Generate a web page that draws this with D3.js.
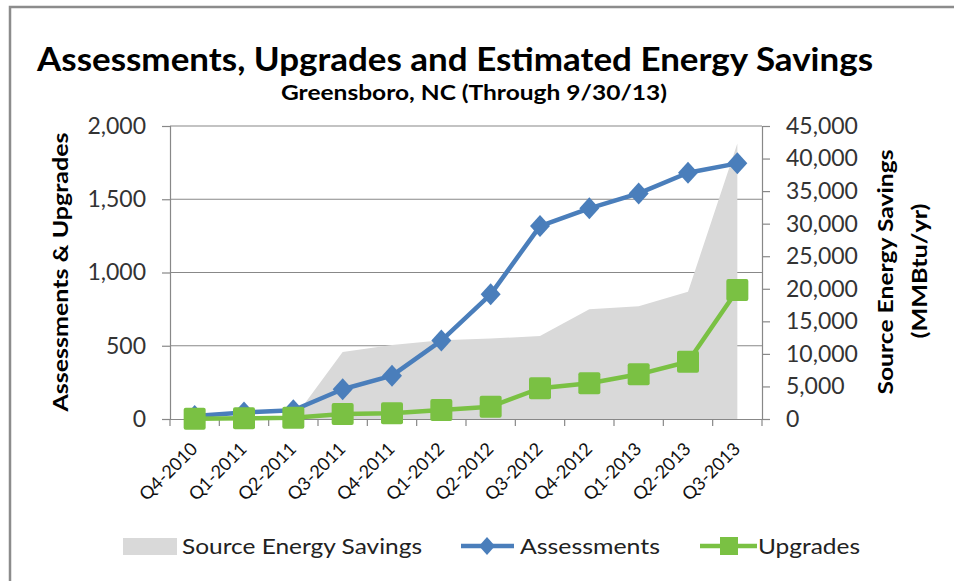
<!DOCTYPE html>
<html lang="en">
<head>
  <meta charset="UTF-8">
  <title>Assessments, Upgrades and Estimated Energy Savings</title>
  <script src="https://d3js.org/d3.v7.min.js"></script>
</head>
<style>
  body{
    margin:0;
    background:#ffffff;
  }
  svg text{
    font-family: Lato, "Open Sans", sans-serif;
  }
</style>
<body>
  <div id="svg_area"></div>
</body>
<script>
// data
var quarters = ["Q4-2010", "Q1-2011", "Q2-2011", "Q3-2011", "Q4-2011", "Q1-2012",
                "Q2-2012", "Q3-2012", "Q4-2012", "Q1-2013", "Q2-2013", "Q3-2013"];
var assessments = [20, 45, 60, 203, 296, 535, 851, 1317, 1438, 1540, 1681, 1745];
var upgrades = [2, 5, 8, 34, 39, 61, 84, 210, 244, 305, 391, 881];
var savings = [0, 0, 0, 10280, 11350, 12100, 12370, 12730, 16870, 17330, 19530, 42300];
var leftTicks = [0, 500, 1000, 1500, 2000];
var rightTicks = [0, 5000, 10000, 15000, 20000, 25000, 30000, 35000, 40000, 45000];

var width = 954, height = 581;
var plotLeft = 170, plotRight = 762, plotTop = 126, plotBottom = 419;
var blue = "#4a7ebb", green = "#7ac143", grey = "#d9d9d9", axisCol = "#888888";

let svg = d3.select("#svg_area").append("svg")
  .attr("width", width)
  .attr("height", height);

// chart border (only top and left edges are inside the picture)
svg.append("rect")
  .attr("x", 10).attr("y", 7)
  .attr("width", 1000).attr("height", 700)
  .attr("fill", "none")
  .attr("stroke", "#8c8c8c")
  .attr("stroke-width", 2.5);

// scales
var x = d3.scaleBand().domain(quarters).range([plotLeft, plotRight]);
var yLeft = d3.scaleLinear().domain([0, 2000]).range([plotBottom, plotTop]);
var yRight = d3.scaleLinear().domain([0, 45000]).range([plotBottom, plotTop]);
function cx(i){ return x(quarters[i]) + x.bandwidth() / 2; }

// gridlines
svg.append("g").selectAll("line")
  .data(leftTicks.slice(1))
  .enter().append("line")
    .attr("x1", plotLeft).attr("x2", plotRight)
    .attr("y1", function(d){ return yLeft(d); })
    .attr("y2", function(d){ return yLeft(d); })
    .attr("stroke", axisCol)
    .attr("stroke-width", 1.2);

// area for source energy savings (secondary axis)
var area = d3.area()
  .x(function(d, i){ return cx(i); })
  .y0(plotBottom)
  .y1(function(d){ return yRight(d); });
svg.append("path")
  .datum(savings)
  .attr("d", area)
  .attr("fill", grey);

// left axis
var leftAxis = svg.append("g")
  .attr("transform", "translate(" + plotLeft + ",0)")
  .call(d3.axisLeft(yLeft).tickValues(leftTicks).tickFormat(d3.format(",")).tickSize(8).tickPadding(16));
// right axis
var rightAxis = svg.append("g")
  .attr("transform", "translate(" + plotRight + ",0)")
  .call(d3.axisRight(yRight).tickValues(rightTicks).tickFormat(d3.format(",")).tickSize(8).tickPadding(16));
// bottom axis with ticks between categories
var bottomAxis = svg.append("g")
  .attr("transform", "translate(0," + plotBottom + ")")
  .call(d3.axisBottom(x).tickSize(0).tickPadding(0));

[leftAxis, rightAxis, bottomAxis].forEach(function(g){
  g.select(".domain").attr("stroke", axisCol).attr("stroke-width", 1.2);
  g.selectAll(".tick line").attr("stroke", axisCol).attr("stroke-width", 1.2);
});
leftAxis.selectAll("text").attr("font-size", "23px").attr("fill", "#333");
rightAxis.selectAll("text").attr("font-size", "23px").attr("fill", "#333");

bottomAxis.selectAll(".tick text")
  .attr("font-size", "18px")
  .attr("fill", "#111")
  .attr("text-anchor", "end")
  .attr("dy", 0)
  .attr("y", 0)
  .attr("transform", "translate(4,31) rotate(-45)");

bottomAxis.selectAll(".boundary")
  .data(quarters.concat(["end"]))
  .enter().append("line")
    .attr("class", "boundary")
    .attr("x1", function(d, i){ return plotLeft + i * x.step(); })
    .attr("x2", function(d, i){ return plotLeft + i * x.step(); })
    .attr("y1", 0).attr("y2", 7)
    .attr("stroke", axisCol)
    .attr("stroke-width", 1.2);

// assessments line
var lineA = d3.line().x(function(d, i){ return cx(i); }).y(function(d){ return yLeft(d); });
svg.append("path")
  .datum(assessments)
  .attr("d", lineA)
  .attr("fill", "none")
  .attr("stroke", blue)
  .attr("stroke-width", 4.5)
  .attr("stroke-linejoin", "round");
svg.append("g").selectAll("path")
  .data(assessments)
  .enter().append("path")
    .attr("d", "M0,-11L10,0L0,11L-10,0Z")
    .attr("transform", function(d, i){ return "translate(" + cx(i) + "," + yLeft(d) + ")"; })
    .attr("fill", blue);

// upgrades line
svg.append("path")
  .datum(upgrades)
  .attr("d", lineA)
  .attr("fill", "none")
  .attr("stroke", green)
  .attr("stroke-width", 4.5)
  .attr("stroke-linejoin", "round");
svg.append("g").selectAll("rect")
  .data(upgrades)
  .enter().append("rect")
    .attr("x", function(d, i){ return cx(i) - 11; })
    .attr("y", function(d){ return yLeft(d) - 11; })
    .attr("width", 22).attr("height", 22)
    .attr("rx", 2)
    .attr("fill", green);

// titles
svg.append("text")
  .attr("x", 455).attr("y", 71)
  .attr("text-anchor", "middle")
  .attr("font-size", "32px").attr("font-weight", "bold")
  .attr("textLength", 836).attr("lengthAdjust", "spacingAndGlyphs")
  .text("Assessments, Upgrades and Estimated Energy Savings");
svg.append("text")
  .attr("x", 474).attr("y", 100)
  .attr("text-anchor", "middle")
  .attr("font-size", "21px").attr("font-weight", "bold")
  .attr("textLength", 386).attr("lengthAdjust", "spacingAndGlyphs")
  .text("Greensboro, NC (Through 9/30/13)");

// axis titles
svg.append("text")
  .attr("transform", "translate(68,272) rotate(-90)")
  .attr("text-anchor", "middle")
  .attr("font-size", "21px").attr("font-weight", "bold")
  .attr("textLength", 279).attr("lengthAdjust", "spacingAndGlyphs")
  .text("Assessments & Upgrades");
svg.append("text")
  .attr("transform", "translate(893,272) rotate(-90)")
  .attr("text-anchor", "middle")
  .attr("font-size", "21px").attr("font-weight", "bold")
  .attr("textLength", 245).attr("lengthAdjust", "spacingAndGlyphs")
  .text("Source Energy Savings");
svg.append("text")
  .attr("transform", "translate(927,271) rotate(-90)")
  .attr("text-anchor", "middle")
  .attr("font-size", "21px").attr("font-weight", "bold")
  .attr("textLength", 135).attr("lengthAdjust", "spacingAndGlyphs")
  .text("(MMBtu/yr)");

// legend
var legend = svg.append("g");
legend.append("rect")
  .attr("x", 123).attr("y", 538).attr("width", 54).attr("height", 17)
  .attr("fill", grey);
legend.append("text")
  .attr("x", 182).attr("y", 554)
  .attr("font-size", "21px").attr("fill", "#222")
  .attr("textLength", 240).attr("lengthAdjust", "spacingAndGlyphs")
  .text("Source Energy Savings");
legend.append("line")
  .attr("x1", 461).attr("x2", 514).attr("y1", 546).attr("y2", 546)
  .attr("stroke", blue).attr("stroke-width", 4.5);
legend.append("path")
  .attr("d", "M0,-9L8,0L0,9L-8,0Z")
  .attr("transform", "translate(487,546)")
  .attr("fill", blue);
legend.append("text")
  .attr("x", 520).attr("y", 554)
  .attr("font-size", "21px").attr("fill", "#222")
  .attr("textLength", 140).attr("lengthAdjust", "spacingAndGlyphs")
  .text("Assessments");
legend.append("line")
  .attr("x1", 700).attr("x2", 757).attr("y1", 546).attr("y2", 546)
  .attr("stroke", green).attr("stroke-width", 4.5);
legend.append("rect")
  .attr("x", 720).attr("y", 537).attr("width", 18).attr("height", 18)
  .attr("fill", green);
legend.append("text")
  .attr("x", 758).attr("y", 554)
  .attr("font-size", "21px").attr("fill", "#222")
  .attr("textLength", 102).attr("lengthAdjust", "spacingAndGlyphs")
  .text("Upgrades");
</script>
</html>
